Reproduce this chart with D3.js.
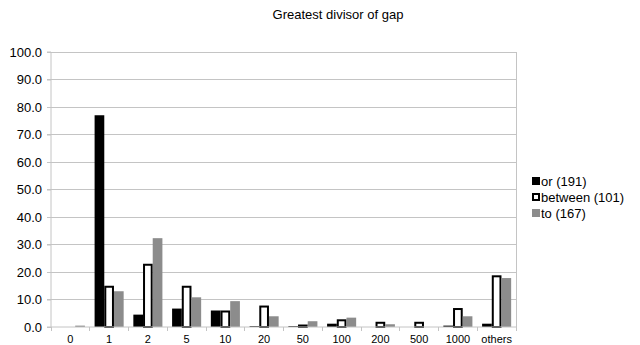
<!DOCTYPE html>
<html><head><meta charset="utf-8">
<script src="https://cdn.jsdelivr.net/npm/d3@7"></script>
<style>
html,body{margin:0;padding:0;background:#fff;}
svg{display:block;font-family:"Liberation Sans",Arial,sans-serif;}
</style></head>
<body>
<svg id="chart" width="640" height="345"></svg>
<script>
const categories = ["0","1","2","5","10","20","50","100","200","500","1000","others"];
const seriesNames = ["or (191)","between (101)","to (167)"];
const orValues      = [0, 77.0, 4.5, 6.7, 6.0, 0.3, 0.3, 1.2, 0, 0, 0.5, 1.2];
const betweenValues = [0, 15.0, 23.0, 15.0, 6.0, 7.8, 0.9, 2.8, 1.9, 1.9, 6.9, 18.8];
const toValues      = [0.5, 13.0, 32.3, 10.8, 9.4, 3.9, 2.1, 3.4, 1.0, 0, 3.9, 17.8];
const yTicks = [0,10,20,30,40,50,60,70,80,90,100];
const title = "Greatest divisor of gap";

(function(){
const svg = d3.select("#chart");
const pL = 51, pR = 516, pT = 52, pB = 327;
const grid = "#c4c4c4";

const x0 = d3.scaleBand().domain(categories).range([pL, pR]).padding(0);
const x1 = d3.scaleBand().domain([0,1,2]).range([0, x0.bandwidth()]).paddingInner(0).paddingOuter(0.5);
const y = d3.scaleLinear().domain([0,100]).range([pB, pT]);

svg.append("text").attr("x", 338).attr("y", 19).attr("text-anchor","middle")
  .attr("font-size", 13).attr("fill", "#000").text(title);

// gridlines
svg.append("g").selectAll("line").data(yTicks.filter(d=>d>0)).join("line")
  .attr("x1", pL-4).attr("x2", pR).attr("y1", d=>y(d)).attr("y2", d=>y(d))
  .attr("stroke", grid).attr("stroke-width", 1).attr("shape-rendering","crispEdges");

// y axis
const yAxis = d3.axisLeft(y).tickValues(yTicks).tickFormat(d3.format(".1f")).tickSize(4).tickPadding(5);
const gy = svg.append("g").attr("transform", `translate(${pL},0)`).call(yAxis);
gy.select(".domain").attr("stroke", grid).attr("d", `M-4,${pT}H0V${pB}H-4`);
gy.selectAll(".tick line").attr("stroke", grid);
gy.selectAll(".tick text").attr("font-size", 13).attr("fill", "#000").attr("font-family", "Liberation Sans, Arial, sans-serif");

// right border
svg.append("line").attr("x1", pR).attr("x2", pR).attr("y1", pT).attr("y2", pB)
  .attr("stroke", grid).attr("shape-rendering","crispEdges");

// bars
const data = [orValues, betweenValues, toValues];
const fills = ["#000000", "#ffffff", "#8c8c8c"];
const bw = x1.bandwidth();
categories.forEach((c, i) => {
  data.forEach((vals, s) => {
    const v = vals[i];
    const bx = x0(c) + x1(s);
    const h = pB - y(v);
    if (s === 1) {
      if (v <= 0) return;
      svg.append("rect").attr("x", bx + 1).attr("y", y(v) + 1)
        .attr("width", bw - 2).attr("height", Math.max(h - 1, 0.5))
        .attr("fill", "#fff").attr("stroke", "#000").attr("stroke-width", 2);
    } else {
      svg.append("rect").attr("x", bx).attr("y", y(v))
        .attr("width", bw).attr("height", h).attr("fill", fills[s]);
    }
  });
});

// x axis
const xAxis = d3.axisBottom(x0).tickSize(0).tickPadding(8);
const gx = svg.append("g").attr("transform", `translate(0,${pB})`).call(xAxis);
gx.select(".domain").attr("stroke", grid).attr("d", `M${pL},0H${pR}`);
gx.selectAll(".tick text").attr("font-size", 11).attr("fill", "#000").attr("font-family", "Liberation Sans, Arial, sans-serif");
// boundary ticks
svg.append("g").selectAll("line").data(categories.map(c=>x0(c)).concat([pR])).join("line")
  .attr("x1", d=>d).attr("x2", d=>d).attr("y1", pB).attr("y2", pB+4)
  .attr("stroke", grid).attr("shape-rendering","crispEdges");

// legend
const lg = svg.append("g").attr("transform", "translate(532,177)");
seriesNames.forEach((n, i) => {
  const g = lg.append("g").attr("transform", `translate(0,${i*16})`);
  if (i === 1) {
    g.append("rect").attr("x", 1).attr("y", 1).attr("width", 6).attr("height", 6)
      .attr("fill", "#fff").attr("stroke", "#000").attr("stroke-width", 2);
  } else {
    g.append("rect").attr("x", 0).attr("y", 0).attr("width", 8).attr("height", 8).attr("fill", fills[i]);
  }
  g.append("text").attr("x", 9).attr("y", 9).attr("font-size", 13).attr("fill", "#000").text(n);
});
})();
</script>
</body></html>
